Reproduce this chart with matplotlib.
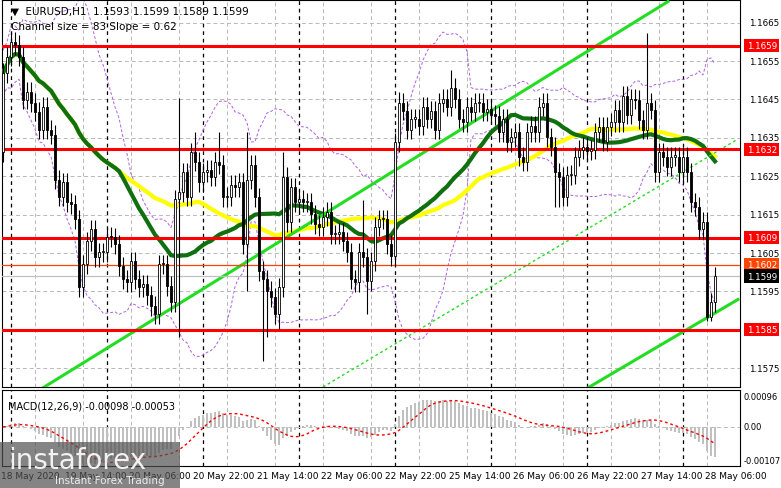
import numpy as np
import pandas as pd
import matplotlib
matplotlib.use("Agg")
import matplotlib.pyplot as plt
import matplotlib.transforms as mtransforms

# hourly closes EURUSD, in pips above 1.1500
close_pips = [
    151.9, 156.1, 160.0, 159.2, 156.1, 144.9, 147.0, 144.1, 141.8, 137.1,
    143.1, 137.1, 135.8, 124.1, 119.7, 123.4, 118.2, 117.7, 113.8, 96.1,
    102.1, 108.0, 111.2, 103.9, 105.2, 105.2, 109.3, 109.1, 107.3, 101.5,
    98.2, 97.4, 102.8, 98.2, 96.1, 96.9, 94.0, 91.2, 89.1, 102.1,
    102.1, 96.4, 92.2, 119.0, 120.8, 126.0, 119.7, 131.2, 128.8, 123.4,
    126.0, 126.7, 124.9, 128.8, 128.0, 119.5, 119.7, 122.8, 122.1, 123.4,
    107.3, 124.1, 128.0, 119.5, 100.3, 98.2, 95.1, 93.5, 89.1, 96.1,
    124.9, 113.0, 122.1, 118.2, 119.0, 118.2, 118.2, 115.1, 112.5, 111.9,
    114.5, 115.8, 109.9, 109.9, 110.4, 108.0, 105.2, 98.2, 97.4, 105.2,
    103.9, 97.7, 102.8, 111.9, 113.8, 113.8, 107.3, 104.1, 133.8, 144.1,
    142.1, 137.1, 140.0, 140.0, 138.2, 143.1, 140.0, 142.1, 137.1, 144.1,
    145.2, 143.1, 148.0, 145.2, 140.0, 139.0, 143.1, 141.8, 144.1, 144.1,
    141.8, 142.6, 141.0, 140.8, 136.4, 140.0, 133.8, 135.1, 136.4, 130.1,
    128.8, 136.4, 138.2, 136.4, 143.1, 144.1, 135.1, 132.7, 126.0, 124.9,
    119.7, 125.2, 125.4, 130.1, 131.9, 132.7, 131.7, 131.9, 136.4, 137.9,
    134.0, 137.9, 139.0, 142.3, 139.0, 146.0, 141.0, 145.2, 144.9, 139.7,
    137.1, 144.1, 142.3, 126.0, 131.2, 130.1, 127.5, 130.1, 130.1, 126.0,
    130.1, 126.0, 118.2, 117.1, 111.2, 113.2, 88.3, 92.2, 98.9,
]
first_open_pips = 131.2
high_pips = {44: 145.4, 48: 136.4, 54: 136.4, 61: 136.4, 70: 131.2, 90: 118.9,
             99: 147.0, 112: 152.7, 161: 162.3}
low_pips = {44: 83.1, 61: 95.1, 65: 76.9, 66: 83.1, 69: 85.2, 91: 89.1,
            138: 117.1, 139: 117.1, 176: 87.3, 177: 87.3}

levels_red = [1.1659, 1.1632, 1.1609, 1.1585]
level_orange = 1.1602
level_last = 1.1599
price_ticks = [1.1575, 1.1595, 1.1605, 1.1615, 1.1625, 1.1635, 1.1645, 1.1655, 1.1665]

# channel lines: (index, price) end points
chan_upper = [(10, 1.15699), (166.25, 1.16705)]
chan_mid = [(80, 1.15701), (183.75, 1.16347)]
chan_lower = [(146.25, 1.15699), (183.75, 1.15929)]

tick_idx = [0, 16, 32, 48, 64, 80, 96, 112, 128, 144, 160, 176]
tick_lbl = ["18 May 2020", "19 May 14:00", "20 May 06:00", "20 May 22:00", "21 May 14:00",
            "22 May 06:00", "22 May 22:00", "25 May 14:00", "26 May 06:00", "26 May 22:00",
            "27 May 14:00", "28 May 06:00"]
day_starts = [2, 26, 50, 74, 98, 122, 146, 170]

closes = 1.15 + np.array(close_pips) / 10000
opens = np.concatenate([[1.15 + first_open_pips / 10000], closes[:-1]])
n = len(closes)
idx = np.arange(n)
wick = 0.00025
highs = np.maximum(opens, closes) + wick
lows = np.minimum(opens, closes) - wick
for k, v in high_pips.items():
    highs[k] = 1.15 + v / 10000
for k, v in low_pips.items():
    lows[k] = 1.15 + v / 10000

s = pd.Series(closes)
ma_green = s.rolling(30, min_periods=1).mean()
ma_yellow = s.rolling(50, min_periods=1).mean()
bb_mid = s.rolling(20, min_periods=1).mean()
bb_std = s.rolling(20, min_periods=2).std().bfill()
ema12 = s.ewm(span=12, adjust=False).mean()
ema26 = s.ewm(span=26, adjust=False).mean()
macd = ema12 - ema26
signal = macd.rolling(9, min_periods=1).mean()

fig = plt.figure(figsize=(7.81, 4.89), dpi=100)
W, H = 781, 489
ax = fig.add_axes([2 / W, 1 - 388 / H, 738 / W, 387 / H])
axm = fig.add_axes([2 / W, 1 - 467 / H, 738 / W, 76 / H])

for a in (ax, axm):
    a.set_xlim(-0.25, 184.25)
    for d in day_starts:
        a.axvline(d, color="black", ls=(0, (3, 3)), lw=0.9, zorder=1)
    for g in range(8, 185, 12):
        a.axvline(g, color="#b8b8b8", ls=(0, (4, 3)), lw=0.7, zorder=0)
    a.set_xticks([])
    a.set_yticks([])
    for sp in a.spines.values():
        sp.set_linewidth(0.8)

ax.set_ylim(1.15701, 1.16709)
for p in price_ticks:
    ax.axhline(p, color="#b8b8b8", ls=(0, (4, 3)), lw=0.7, zorder=0)

# bands and averages
ax.plot(idx, bb_mid + 2 * bb_std, color="#b060e0", ls=(0, (3, 2)), lw=0.7, zorder=2)
ax.plot(idx, bb_mid - 2 * bb_std, color="#b060e0", ls=(0, (3, 2)), lw=0.7, zorder=2)
ax.plot(idx, ma_yellow, color="#ffff00", lw=3, zorder=3)
ax.plot(idx, ma_green, color="#107010", lw=3, zorder=3)

for (x0, y0), (x1, y1) in [chan_upper, chan_lower]:
    ax.plot([x0, x1], [y0, y1], color="#22dd22", lw=2.2, zorder=3)
ax.plot([chan_mid[0][0], chan_mid[1][0]], [chan_mid[0][1], chan_mid[1][1]],
        color="#22dd22", ls=(0, (2, 2)), lw=1.0, zorder=3)

for p in levels_red:
    ax.axhline(p, color="#ff0000", lw=2.2, zorder=4)
ax.axhline(level_orange, color="#ff4500", lw=0.9, zorder=4)
ax.axhline(level_last, color="#c0c0c0", lw=0.9, zorder=4)

# candles
ax.vlines(idx, lows, highs, color="black", lw=0.8, zorder=5)
body_lo = np.minimum(opens, closes)
body_h = np.maximum(np.abs(closes - opens), 0.00003)
cols = ["white" if c >= o else "black" for o, c in zip(opens, closes)]
ax.bar(idx, body_h, bottom=body_lo, width=0.6, color=cols, edgecolor="black", lw=0.6, zorder=6)

ax.text(0.012, 0.985, "\u25bc  EURUSD,H1  1.1593 1.1599 1.1589 1.1599", transform=ax.transAxes,
        fontsize=7.5, va="top", ha="left", zorder=8)
ax.text(0.012, 0.945, "Channel size = 83 Slope = 0.62", transform=ax.transAxes,
        fontsize=7.5, va="top", ha="left", zorder=8)

# right price scale
fs = 6.3
tr = mtransforms.blended_transform_factory(ax.transAxes, ax.transData)
for p in price_ticks:
    ax.text(1.012, p, f"{p:.4f}", transform=tr, fontsize=fs, va="center", ha="left", clip_on=False)
box = dict(boxstyle="square,pad=0.25", ec="none")
for p in levels_red:
    ax.text(1.009, p, f"{p:.4f}", transform=tr, fontsize=fs, va="center", ha="left", color="white",
            clip_on=False, zorder=9, bbox=dict(box, fc="#ff0000"))
ax.text(1.009, level_orange, f"{level_orange:.4f}", transform=tr, fontsize=fs, va="center", ha="left",
        color="white", clip_on=False, zorder=9, bbox=dict(box, fc="#ff4500"))
ax.text(1.009, level_last, f"{level_last:.4f}", transform=tr, fontsize=fs, va="center", ha="left",
        color="white", clip_on=False, zorder=9, bbox=dict(box, fc="black"))

# MACD panel
axm.set_ylim(-0.00125, 0.00118)
axm.axhline(0, color="#b8b8b8", ls=(0, (4, 3)), lw=0.7, zorder=0)
axm.bar(idx, macd, width=0.6, color="#c0c0c0", zorder=2)
axm.plot(idx, signal, color="red", ls=(0, (2, 2)), lw=1.0, zorder=3)
axm.text(0.008, 0.86, "MACD(12,26,9) -0.00098 -0.00053", transform=axm.transAxes,
         fontsize=7, va="top", ha="left", zorder=12)
trm = mtransforms.blended_transform_factory(axm.transAxes, axm.transData)
for v, t in [(0.00096, "0.00096"), (0.0, "0.00"), (-0.00107, "-0.00107")]:
    axm.text(1.005, v, t, transform=trm, fontsize=6, va="center", ha="left", clip_on=False)

trx = mtransforms.blended_transform_factory(axm.transData, axm.transAxes)
for i, t in zip(tick_idx, tick_lbl):
    axm.text(i - 0.5, -0.06, t, transform=trx, fontsize=6.5, va="top", ha="left", clip_on=False)

# watermark
fig.patches.append(plt.Rectangle((0, 0), 180 / W, 46 / H, transform=fig.transFigure,
                                 fc="#505050", alpha=0.7, ec="none", zorder=10))
fig.text(8 / W, 1 - 461 / H, "instaforex", fontsize=20, color="white", alpha=0.9, zorder=11,
         va="center", ha="left")
fig.text(55 / W, 1 - 481 / H, "Instant Forex Trading", fontsize=7.5, color="white", alpha=0.85,
         zorder=11, va="center", ha="left")

fig.savefig("out.png", dpi=100)
